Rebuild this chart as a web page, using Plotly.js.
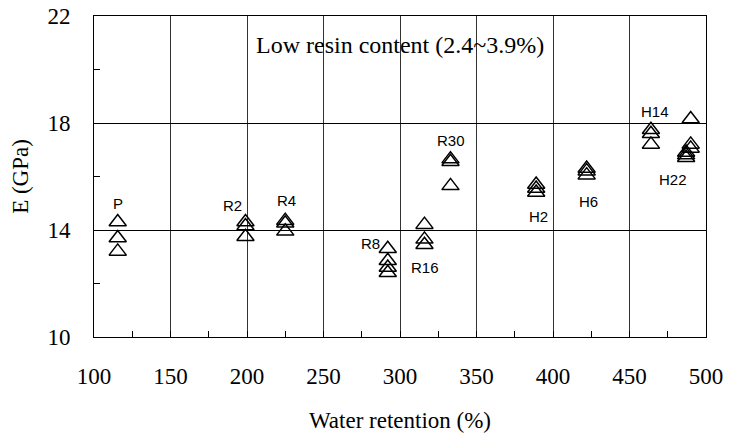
<!DOCTYPE html>
<html>
<head>
<meta charset="utf-8">
<script src="https://cdn.plot.ly/plotly-3.0.1.min.js"></script>
<style>html,body{margin:0;padding:0;background:#fff;}#chart{width:742px;height:438px;}</style>
</head>
<body>
<div id="chart"></div>
<script>
// Sample groups and their water retention (%)
const groups = ['P', 'R2', 'R4', 'R8', 'R16', 'R30', 'H2', 'H6', 'H14', 'H22', 'H30'];
const waterRetention = [115.5, 199, 225, 292, 316, 333, 389, 422, 464, 487, 490];
// Measured E (GPa) for each specimen in the group
const modulusE = [
  [14.3, 13.7, 13.2],
  [14.3, 14.15, 13.75],
  [14.35, 14.25, 13.95],
  [13.3, 12.85, 12.6, 12.4],
  [14.2, 13.65, 13.45],
  [16.65, 16.55, 15.65],
  [15.7, 15.55, 15.4],
  [16.3, 16.2, 16.05],
  [17.75, 17.6, 17.2],
  [16.9, 16.8, 16.7],
  [18.15, 17.2, 17.05]
];
// Label anchor points (data coordinates) for group names
const labelX = [115.5, 190.8, 225.5, 280.8, 316.3, 333.1, 390.4, 423.1, 466.7, 478.2, 512.4];
const labelY = [15.0, 14.93, 15.12, 13.5, 12.59, 17.36, 14.5, 15.06, 18.42, 15.87, 17.67];
const noteText = 'Low resin content (2.4~3.9%)';
const noteX = 300, noteY = 20.92;

const xs = [], ys = [];
groups.forEach((g, i) => {
  modulusE[i].forEach(v => { xs.push(waterRetention[i]); ys.push(v); });
});

const serif = 'Liberation Serif, Times New Roman, serif';
const sans = 'Liberation Sans, Arial, sans-serif';

const trace = {
  x: xs, y: ys, type: 'scatter', mode: 'markers',
  marker: {symbol: 'triangle-up-open', size: 15, color: '#000', line: {color: '#000', width: 1.5}},
  hoverinfo: 'x+y', showlegend: false
};

const annotations = groups.map((g, i) => ({
  x: labelX[i], y: labelY[i], xref: 'x', yref: 'y', text: g, showarrow: false,
  font: {family: sans, size: 15, color: '#000'}, xanchor: 'center', yanchor: 'middle'
}));
annotations.push({
  x: noteX, y: noteY, xref: 'x', yref: 'y', text: noteText, showarrow: false,
  font: {family: serif, size: 24, color: '#000'}, xanchor: 'center', yanchor: 'middle'
});

const layout = {
  width: 742, height: 438,
  margin: {l: 94, r: 36, t: 16, b: 101, pad: 0},
  paper_bgcolor: '#fff', plot_bgcolor: '#fff',
  showlegend: false,
  xaxis: {
    range: [100, 500], dtick: 50, tick0: 100,
    showline: true, linecolor: '#000', linewidth: 1, mirror: true,
    showgrid: true, gridcolor: '#333', gridwidth: 1, zeroline: false,
    ticks: 'inside', ticklen: 6, tickcolor: '#000',
    minor: {dtick: 25, ticks: 'inside', ticklen: 6, tickcolor: '#000', showgrid: false},
    tickfont: {family: serif, size: 23, color: '#000'},
    ticklabelstandoff: 18,
    title: {text: 'Water retention (%)', font: {family: serif, size: 23, color: '#000'}, standoff: 24}
  },
  yaxis: {
    range: [10, 22], dtick: 4, tick0: 10,
    showline: true, linecolor: '#000', linewidth: 1, mirror: true,
    showgrid: true, gridcolor: '#000', gridwidth: 1, zeroline: false,
    ticks: 'inside', ticklen: 6, tickcolor: '#000',
    minor: {dtick: 2, ticks: 'inside', ticklen: 6, tickcolor: '#000', showgrid: false},
    tickfont: {family: serif, size: 23, color: '#000'},
    ticklabelstandoff: 18,
    title: {text: 'E (GPa)', font: {family: serif, size: 23, color: '#000'}, standoff: 12}
  },
  annotations: annotations
};

Plotly.newPlot('chart', [trace], layout, {displayModeBar: false, staticPlot: true});
</script>
</body>
</html>
